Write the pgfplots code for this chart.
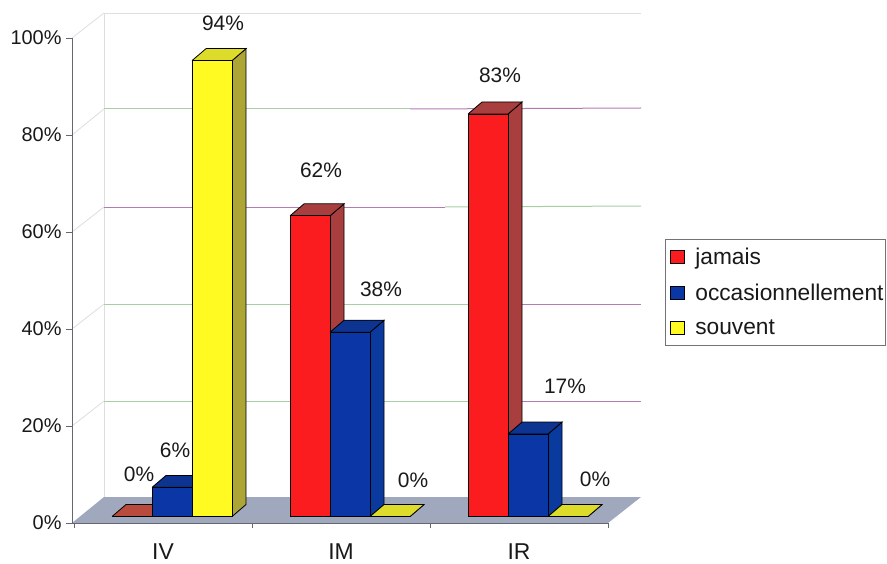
\documentclass[border=0pt]{standalone}
\usepackage{pgfplots}
\pgfplotsset{compat=1.18}
\usepackage{fontspec}
\setmainfont{Liberation Sans}
\definecolor{fred}{HTML}{FB1C20}
\definecolor{sred}{HTML}{A83E3E}
\definecolor{tred}{HTML}{B84A3E}
\definecolor{fblue}{HTML}{0B36A6}
\definecolor{sblue}{HTML}{0A3A9E}
\definecolor{tblue}{HTML}{0C3490}
\definecolor{fyel}{HTML}{FFFA22}
\definecolor{syel}{HTML}{ADA636}
\definecolor{tyel}{HTML}{DEDC2A}
\definecolor{floorc}{HTML}{A0A8BE}
\definecolor{gridg}{HTML}{A8CEA6}
\definecolor{gridp}{HTML}{B27CB2}
\definecolor{wallc}{HTML}{DDDDE2}
\definecolor{axc}{HTML}{666670}
% one bar's depth: group position, value, side colour, top colour
\newcommand{\depth}[4]{%
  \pgfmathsetmacro{\xr}{#1+0.1124}%
  \pgfmathsetmacro{\xl}{#1-0.1124}%
  \pgfmathsetmacro{\xrd}{\xr+0.0787}%
  \pgfmathsetmacro{\xld}{\xl+0.0787}%
  \pgfmathsetmacro{\ye}{#2+2.474}%
  \addplot[forget plot,draw=black,line width=0.8bp,fill=#3] coordinates {(\xr,0) (\xrd,2.474) (\xrd,\ye) (\xr,#2) (\xr,0)};
  \addplot[forget plot,draw=black,line width=0.8bp,fill=#4] coordinates {(\xl,#2) (\xr,#2) (\xrd,\ye) (\xld,\ye) (\xl,#2)};
}
\newcommand{\lab}[3]{\node[font=\fontsize{21}{24}\selectfont,text=black!90] at (axis cs:#1,#2) {#3};}
\begin{document}
\begin{tikzpicture}
\useasboundingbox (0,0) rectangle (887bp,564bp);
% floor, walls and value labels, in picture units
\begin{axis}[at={(0,0)},anchor=south west,scale only axis,width=887bp,height=564bp,
  xmin=0,xmax=887,ymin=0,ymax=564,y dir=reverse,hide axis,clip=false]
\addplot[draw=none,fill=floorc] coordinates {(72,523) (104,497) (641,497) (608,523) (72,523)};
\addplot[wallc,line width=0.8bp] coordinates {(104,497) (104,13) (641,13)};
\addplot[wallc,line width=0.8bp] coordinates {(72,38) (104,13)};
\addplot[wallc,line width=0.8bp] coordinates {(72,135) (104,109)};
\addplot[wallc,line width=0.8bp] coordinates {(72,232) (104,207)};
\addplot[wallc,line width=0.8bp] coordinates {(72,329) (104,304)};
\addplot[wallc,line width=0.8bp] coordinates {(72,426) (104,401)};
\addplot[gridg,line width=1bp] coordinates {(104,109) (410,109)};
\addplot[gridp,line width=1bp] coordinates {(410,109) (641,108)};
\addplot[gridp,line width=1bp] coordinates {(104,207) (445,207)};
\addplot[gridg,line width=1bp] coordinates {(445,207) (641,206)};
\addplot[gridg,line width=1bp] coordinates {(104,304) (500,304)};
\addplot[gridp,line width=1bp] coordinates {(500,304) (641,304)};
\addplot[gridg,line width=1bp] coordinates {(104,401) (470,401)};
\addplot[gridp,line width=1bp] coordinates {(470,401) (641,401)};
\lab{223}{23}{94\%}
\lab{321}{170}{62\%}
\lab{500}{75}{83\%}
\lab{381}{289}{38\%}
\lab{565}{386}{17\%}
\lab{139}{474}{0\%}
\lab{175}{450}{6\%}
\lab{413}{480}{0\%}
\lab{595}{479}{0\%}
\end{axis}
% the value axis and the categories
\begin{axis}[at={(72bp,41bp)},anchor=south west,scale only axis,width=536bp,height=485bp,
  xmin=-0.511,xmax=2.5,ymin=0,ymax=100,axis lines=left,axis line style={-,axc,line width=0.9bp},
  xtick={0,1,2},xticklabels={IV,IM,IR},
  minor xtick={-0.5,0.5,1.5,2.5},
  ytick={0,20,40,60,80,100},yticklabels={0\%,20\%,40\%,60\%,80\%,100\%},
  major x tick style={draw=none},minor tick length=5bp,major tick length=6bp,
  tick style={axc,line width=0.8bp},tick align=outside,
  x tick label style={font=\fontsize{23}{25}\selectfont,text=black!90,yshift=-11bp},
  y tick label style={font=\fontsize{20}{22}\selectfont,text=black!90,xshift=-1bp}]
\end{axis}
% the bars: zero of this axis is the foot of the bars on the floor
\begin{axis}[at={(72bp,41bp)},anchor=south west,scale only axis,width=536bp,height=485bp,
  xmin=-0.562,xmax=2.449,ymin=-1.34,ymax=98.66,hide axis,clip=false,
  area legend,
  legend image code/.code={\path[draw=none,fill=none] (-5bp,0) rectangle (23bp,0);\draw[#1,line width=0.8bp] (0bp,-6.5bp) rectangle (14bp,6.5bp);},
  legend cell align=left,
  legend style={at={(rel axis cs:1.1063,0.5856)},anchor=north west,draw=black!55,line width=0.8bp,
    font=\fontsize{22.8}{25}\selectfont,text=black!90,inner xsep=0bp,inner ysep=7bp,
    row sep=14bp}]
\depth{-0.2247}{0}{sred}{tred}
\depth{0.7753}{62}{sred}{sred}
\depth{1.7753}{83}{sred}{sred}
\addplot[ybar,bar width=40bp,bar shift=-40bp,draw=black,line width=0.8bp,fill=fred] coordinates {(0,0) (1,62) (2,83)};
\addlegendentry{jamais}
\depth{0}{6}{sblue}{tblue}
\depth{1}{38}{sblue}{tblue}
\depth{2}{17}{sblue}{tblue}
\addplot[ybar,bar width=40bp,bar shift=0bp,draw=black,line width=0.8bp,fill=fblue] coordinates {(0,6) (1,38) (2,17)};
\addlegendentry{occasionnellement}
\depth{0.2247}{94}{syel}{tyel}
\depth{1.2247}{0}{syel}{tyel}
\depth{2.2247}{0}{syel}{tyel}
\addplot[ybar,bar width=40bp,bar shift=40bp,draw=black,line width=0.8bp,fill=fyel] coordinates {(0,94) (1,0) (2,0)};
\addlegendentry{souvent}
\end{axis}
\end{tikzpicture}
\end{document}
